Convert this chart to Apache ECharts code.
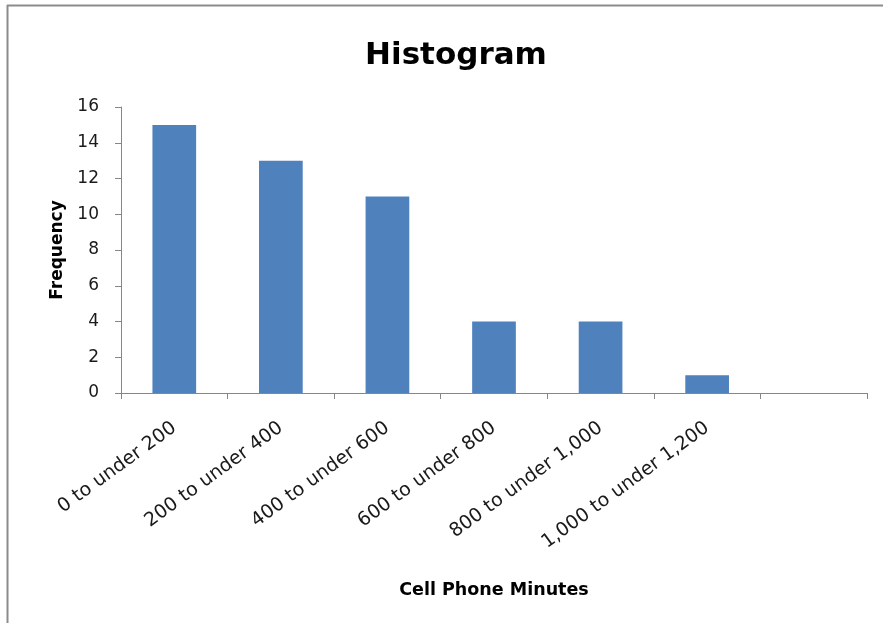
<!DOCTYPE html>
<html><head><meta charset="utf-8">
<script src="https://cdn.jsdelivr.net/npm/echarts@6/dist/echarts.min.js"></script>
<style>html,body{margin:0;padding:0;background:#fff}#c{width:883px;height:623px}</style>
</head><body><div id="c"></div>
<script>
const categories = ["0 to under 200","200 to under 400","400 to under 600","600 to under 800","800 to under 1,000","1,000 to under 1,200",""];
const frequency = [15, 13, 11, 4, 4, 1, null];
const yTicks = {min: 0, max: 16, interval: 2};

const chart = echarts.init(document.getElementById('c'));
const font = '"DejaVu Sans", sans-serif';
chart.setOption({
  animation: false,
  backgroundColor: '#fff',
  title: {
    text: 'Histogram', left: 451, top: 35, textAlign: 'center',
    textStyle: {fontFamily: font, fontSize: 31, fontWeight: 'bold', color: '#000'}
  },
  graphic: [
    {type: 'line', shape: {x1: 7.5, y1: 5, x2: 7.5, y2: 623}, style: {stroke: '#8c8c8c', lineWidth: 2}},
    {type: 'line', shape: {x1: 7, y1: 5.5, x2: 883, y2: 5.5}, style: {stroke: '#8c8c8c', lineWidth: 2}}
  ],
  grid: {left: 121, right: 16, top: 107, bottom: 230},
  xAxis: {
    type: 'category', data: categories,
    name: 'Cell Phone Minutes', nameLocation: 'middle', nameGap: 188,
    nameTextStyle: {fontFamily: font, fontSize: 17.5, fontWeight: 'bold', color: '#000'},
    axisLine: {lineStyle: {color: '#868686', width: 1}},
    axisTick: {show: true, alignWithLabel: false, length: 6, lineStyle: {color: '#868686'}},
    axisLabel: {rotate: 36, fontFamily: font, fontSize: 19, color: '#1a1a1a', margin: 33, interval: 0}
  },
  yAxis: {
    type: 'value', min: yTicks.min, max: yTicks.max, interval: yTicks.interval,
    name: 'Frequency', nameLocation: 'middle', nameGap: 55, nameRotate: 90,
    nameTextStyle: {fontFamily: font, fontSize: 17, fontWeight: 'bold', color: '#000'},
    axisLine: {show: true, lineStyle: {color: '#868686', width: 1}},
    axisTick: {show: true, length: 6, lineStyle: {color: '#868686'}},
    splitLine: {show: false},
    axisLabel: {fontFamily: font, fontSize: 17, color: '#1a1a1a', margin: 22}
  },
  series: [{
    type: 'bar', data: frequency, barWidth: '41%',
    itemStyle: {color: '#4f81bd'}
  }]
});
</script></body></html>
